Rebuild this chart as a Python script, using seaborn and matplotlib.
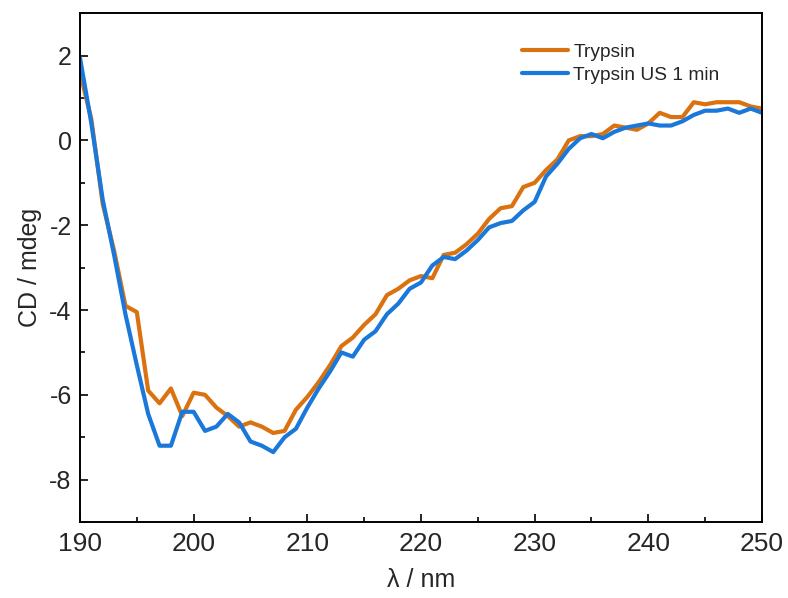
import matplotlib
matplotlib.use("Agg")
import matplotlib.pyplot as plt
import seaborn as sns
import numpy as np
import pandas as pd
from matplotlib.ticker import MultipleLocator

wavelength = list(range(190, 251))
trypsin = [1.6, 0.5, -1.5, -2.6, -3.9, -4.05, -5.9, -6.2, -5.85, -6.5,
           -5.95, -6.0, -6.3, -6.5, -6.75, -6.65, -6.75, -6.9, -6.85, -6.35,
           -6.05, -5.7, -5.3, -4.85, -4.65, -4.35, -4.1, -3.65, -3.5, -3.3,
           -3.2, -3.25, -2.7, -2.65, -2.45, -2.2, -1.85, -1.6, -1.55, -1.1,
           -1.0, -0.7, -0.45, 0.0, 0.1, 0.1, 0.15, 0.35, 0.3, 0.25,
           0.4, 0.65, 0.55, 0.55, 0.9, 0.85, 0.9, 0.9, 0.9, 0.8,
           0.75]
trypsin_us = [1.95, 0.4, -1.4, -2.7, -4.1, -5.3, -6.45, -7.2, -7.2, -6.4,
              -6.4, -6.85, -6.75, -6.45, -6.65, -7.1, -7.2, -7.35, -7.0, -6.8,
              -6.3, -5.85, -5.45, -5.0, -5.1, -4.7, -4.5, -4.1, -3.85, -3.5,
              -3.35, -2.95, -2.75, -2.8, -2.6, -2.35, -2.05, -1.95, -1.9, -1.65,
              -1.45, -0.85, -0.55, -0.2, 0.05, 0.15, 0.05, 0.2, 0.3, 0.35,
              0.4, 0.35, 0.35, 0.45, 0.6, 0.7, 0.7, 0.75, 0.65, 0.75,
              0.65]
series_names = ["Trypsin", "Trypsin US 1 min"]
colors = ["#DB7210", "#1A78DB"]

df = pd.DataFrame({
    "wl": wavelength * 2,
    "cd": trypsin + trypsin_us,
    "series": [series_names[0]] * len(wavelength) + [series_names[1]] * len(wavelength),
})

sns.set_style("white")
plt.rcParams["font.family"] = ["Liberation Sans", "DejaVu Sans"]
plt.rcParams["axes.unicode_minus"] = False

fig = plt.figure(figsize=(7.88, 5.98), dpi=100)
ax = fig.add_axes([0.1015, 0.127, 0.8655, 0.851])
sns.lineplot(data=df, x="wl", y="cd", hue="series", palette=colors,
             linewidth=3.0, ax=ax, legend=True)

ax.set_xlim(190, 250)
ax.set_ylim(-9, 3)
ax.xaxis.set_major_locator(MultipleLocator(10))
ax.xaxis.set_minor_locator(MultipleLocator(5))
ax.yaxis.set_major_locator(MultipleLocator(2))
ax.yaxis.set_minor_locator(MultipleLocator(1))
ax.tick_params(axis="both", which="major", direction="in", length=6, width=1.4,
               top=False, right=False, bottom=True, left=True)
ax.tick_params(axis="x", which="major", labelsize=19, pad=7)
ax.tick_params(axis="y", which="major", labelsize=18, pad=6)
ax.tick_params(axis="both", which="minor", direction="in", length=3.5, width=1.4,
               top=False, right=False, bottom=True, left=True)
for s in ax.spines.values():
    s.set_visible(True)
    s.set_color("black")
    s.set_linewidth(1.4)

ax.set_xlabel("λ / nm", fontsize=18, labelpad=9)
ax.set_ylabel("CD / mdeg", fontsize=18, labelpad=5)

leg = ax.legend(loc="upper right", bbox_to_anchor=(0.963, 0.975), frameon=False,
                fontsize=13.8, handlelength=2.4, handletextpad=0.3,
                labelspacing=0.3)
for line in leg.get_lines():
    line.set_linewidth(3.0)

fig.savefig("out.png", dpi=100)
